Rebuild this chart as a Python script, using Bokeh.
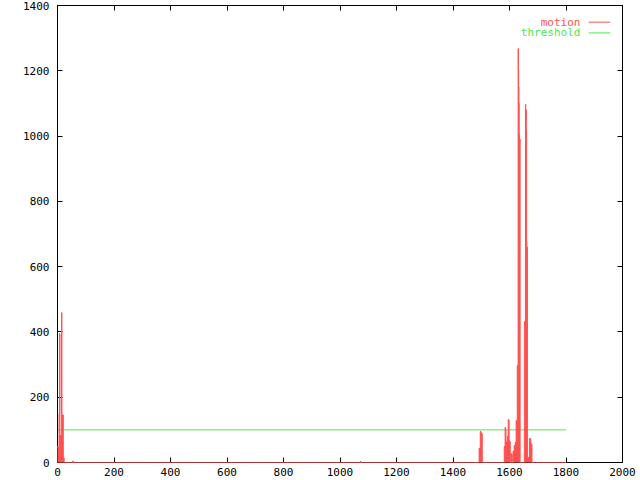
from bokeh.plotting import figure
from bokeh.models import Range1d, FixedTicker, LinearAxis, Label
from bokeh.embed import file_html
from bokeh.resources import INLINE

# ---- data (frame index -> motion amount; frames not listed are 0) ----
frame_count = 1801
spike_frames = [
    0, 1, 2, 3, 4, 5, 6, 7, 8, 9, 10, 11, 12, 13, 14, 15, 16, 17, 18, 19, 20, 21, 22, 23,
    55, 1073,
    1493, 1494, 1495, 1496, 1497, 1498, 1499, 1500, 1501, 1502, 1503,
    1582, 1583, 1584, 1585, 1586, 1587, 1588, 1589, 1590, 1591, 1592, 1593, 1594, 1595,
    1596, 1597, 1598, 1599, 1600, 1601, 1602,
    1606, 1607, 1608, 1609,
    1613, 1614, 1615, 1616, 1617, 1618, 1619, 1620, 1621, 1622, 1623,
    1624, 1625, 1626, 1627, 1628, 1629, 1630, 1631, 1632, 1633, 1634, 1635, 1636, 1637,
    1653, 1654, 1655, 1656, 1657, 1658, 1659, 1660, 1661, 1662, 1663,
    1664, 1665, 1666, 1667, 1668, 1669, 1670, 1671, 1672, 1673, 1674, 1675,
    1676, 1677, 1678, 1679,
]
spike_values = [
    50, 47, 45, 48, 46, 47, 148, 150, 395, 10, 8, 83, 80, 82, 78, 459, 144, 140, 146, 142, 145, 16, 15, 14,
    5, 4,
    44, 43, 44, 42, 95, 96, 93, 89, 88, 87, 88,
    49, 47, 50, 108, 105, 100, 64, 60, 63, 58, 62, 80, 78, 79,
    132, 128, 130, 67, 65, 66, 64,
    27, 25, 26, 24,
    35, 33, 34, 32, 52, 50, 51, 49, 62, 60, 61,
    129, 125, 127, 120, 297, 290, 285, 1268, 1200, 1150, 1100, 1005, 980, 990,
    432, 420, 425, 410, 1097, 1050, 1080, 1020, 677, 650, 660,
    16, 15, 16, 14, 15, 16, 14, 74, 72, 73, 70, 71,
    58, 56, 57, 55,
]
threshold_x = [0, 1800]
threshold_y = [100, 100]
x_ticks = [0, 200, 400, 600, 800, 1000, 1200, 1400, 1600, 1800, 2000]
y_ticks = [0, 200, 400, 600, 800, 1000, 1200, 1400]

frames = list(range(frame_count))
motion = [0] * frame_count
for f, v in zip(spike_frames, spike_values):
    motion[f] = v

RED = "#ff5050"
GREEN = "#4ee84e"
FONT = "DejaVu Sans Mono"

p = figure(width=640, height=480, output_backend="svg", toolbar_location=None,
           x_range=Range1d(0, 2000), y_range=Range1d(0, 1400),
           min_border_left=57, min_border_right=18, min_border_top=5, min_border_bottom=18)
p.xgrid.visible = False
p.ygrid.visible = False
p.outline_line_color = "black"
p.outline_line_alpha = 1.0
p.background_fill_color = "white"
p.border_fill_color = "white"

p.add_layout(LinearAxis(), "above")
p.add_layout(LinearAxis(), "right")

for ax in p.xaxis:
    ax.ticker = FixedTicker(ticks=x_ticks)
for ax in p.yaxis:
    ax.ticker = FixedTicker(ticks=y_ticks)

for ax in p.axis:
    ax.major_tick_in = 5
    ax.major_tick_out = 0
    ax.minor_tick_line_color = None
    ax.axis_line_color = "black"
    ax.major_tick_line_color = "black"
    ax.major_label_text_font = FONT
    ax.major_label_text_font_size = "11px"
    ax.major_label_text_color = "black"

for ax in (p.above[0], p.right[0]):
    ax.major_label_text_font_size = "1px"
    ax.major_label_text_color = None
    ax.major_label_standoff = 0

p.below[0].major_label_standoff = 5
p.left[0].major_label_standoff = 8

# threshold
p.line(threshold_x, threshold_y, line_color=GREEN, line_width=1)

# motion (filled impulses + outline/baseline)
fill = p.varea_step(x=frames, y1=[0] * frame_count, y2=motion, step_mode="center",
                    fill_color=RED, fill_alpha=1.0)
outl = p.step(frames, motion, mode="center", line_color=RED, line_width=1)
fill.level = "overlay"
outl.level = "overlay"

# legend (gnuplot-style: text then sample line)
leg_text_x = 1851
leg_line_x0, leg_line_x1 = 1880, 1957
rows = [("motion", RED, 1349), ("threshold", GREEN, 1316)]
for name, col, yy in rows:
    p.add_layout(Label(x=leg_text_x, y=yy, text=name, text_align="right", text_baseline="middle",
                       text_font=FONT, text_font_size="11px", text_color=col))
    p.line([leg_line_x0, leg_line_x1], [yy, yy], line_color=col, line_width=1)

open("out.html", "w").write(file_html(p, INLINE))
